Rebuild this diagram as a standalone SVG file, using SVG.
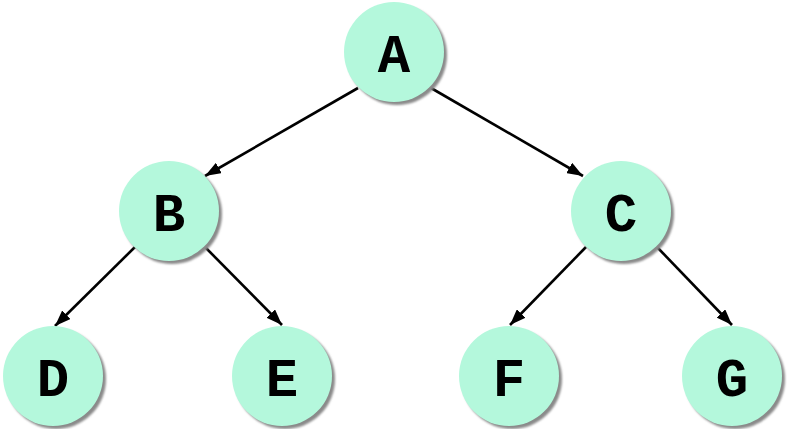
<svg xmlns="http://www.w3.org/2000/svg" width="788" height="429" viewBox="0 0 788 429">
<defs>
<marker id="ah" viewBox="0 0 16 12" refX="16" refY="6" markerWidth="16" markerHeight="12" markerUnits="userSpaceOnUse" orient="auto">
<path d="M0,0 L16,6 L0,12 z" fill="#000"/>
</marker>
<filter id="blur" x="-20%" y="-20%" width="140%" height="140%"><feGaussianBlur stdDeviation="1"/></filter>
</defs>
<style>
.sh{fill:#8a8a8a;filter:url(#blur)}
.nd{fill:#b4f8dc}
.lb{font-family:"Courier New","Nimbus Mono PS","FreeMono","Liberation Mono",monospace;font-weight:bold;font-size:54px;fill:#000;text-anchor:middle}
.ed{stroke:#000;stroke-width:2.6;fill:none;marker-end:url(#ah)}
</style>
<rect width="788" height="429" fill="#fff"/>
<g id="connectors">
<line class="ed" x1="358" y1="88" x2="205" y2="176"/>
<line class="ed" x1="431" y1="88" x2="583" y2="176"/>
<line class="ed" x1="135" y1="247" x2="55" y2="326"/>
<line class="ed" x1="205" y1="247" x2="282" y2="325"/>
<line class="ed" x1="586" y1="247" x2="510" y2="325"/>
<line class="ed" x1="657" y1="247" x2="732" y2="325"/>
</g>
<g id="A"><circle class="sh" cx="397" cy="55" r="50"/><circle class="nd" cx="394" cy="52" r="50"/><text class="lb" x="394" y="72">A</text></g>
<g id="B"><circle class="sh" cx="172" cy="214" r="50"/><circle class="nd" cx="169" cy="211" r="50"/><text class="lb" x="169" y="231">B</text></g>
<g id="C"><circle class="sh" cx="624" cy="214" r="50"/><circle class="nd" cx="621" cy="211" r="50"/><text class="lb" x="621" y="231">C</text></g>
<g id="D"><circle class="sh" cx="56" cy="379" r="50"/><circle class="nd" cx="53" cy="376" r="50"/><text class="lb" x="53" y="396">D</text></g>
<g id="E"><circle class="sh" cx="285" cy="379" r="50"/><circle class="nd" cx="282" cy="376" r="50"/><text class="lb" x="282" y="396">E</text></g>
<g id="F"><circle class="sh" cx="512" cy="379" r="50"/><circle class="nd" cx="509" cy="376" r="50"/><text class="lb" x="509" y="396">F</text></g>
<g id="G"><circle class="sh" cx="735" cy="379" r="50"/><circle class="nd" cx="732" cy="376" r="50"/><text class="lb" x="732" y="396">G</text></g>
</svg>
